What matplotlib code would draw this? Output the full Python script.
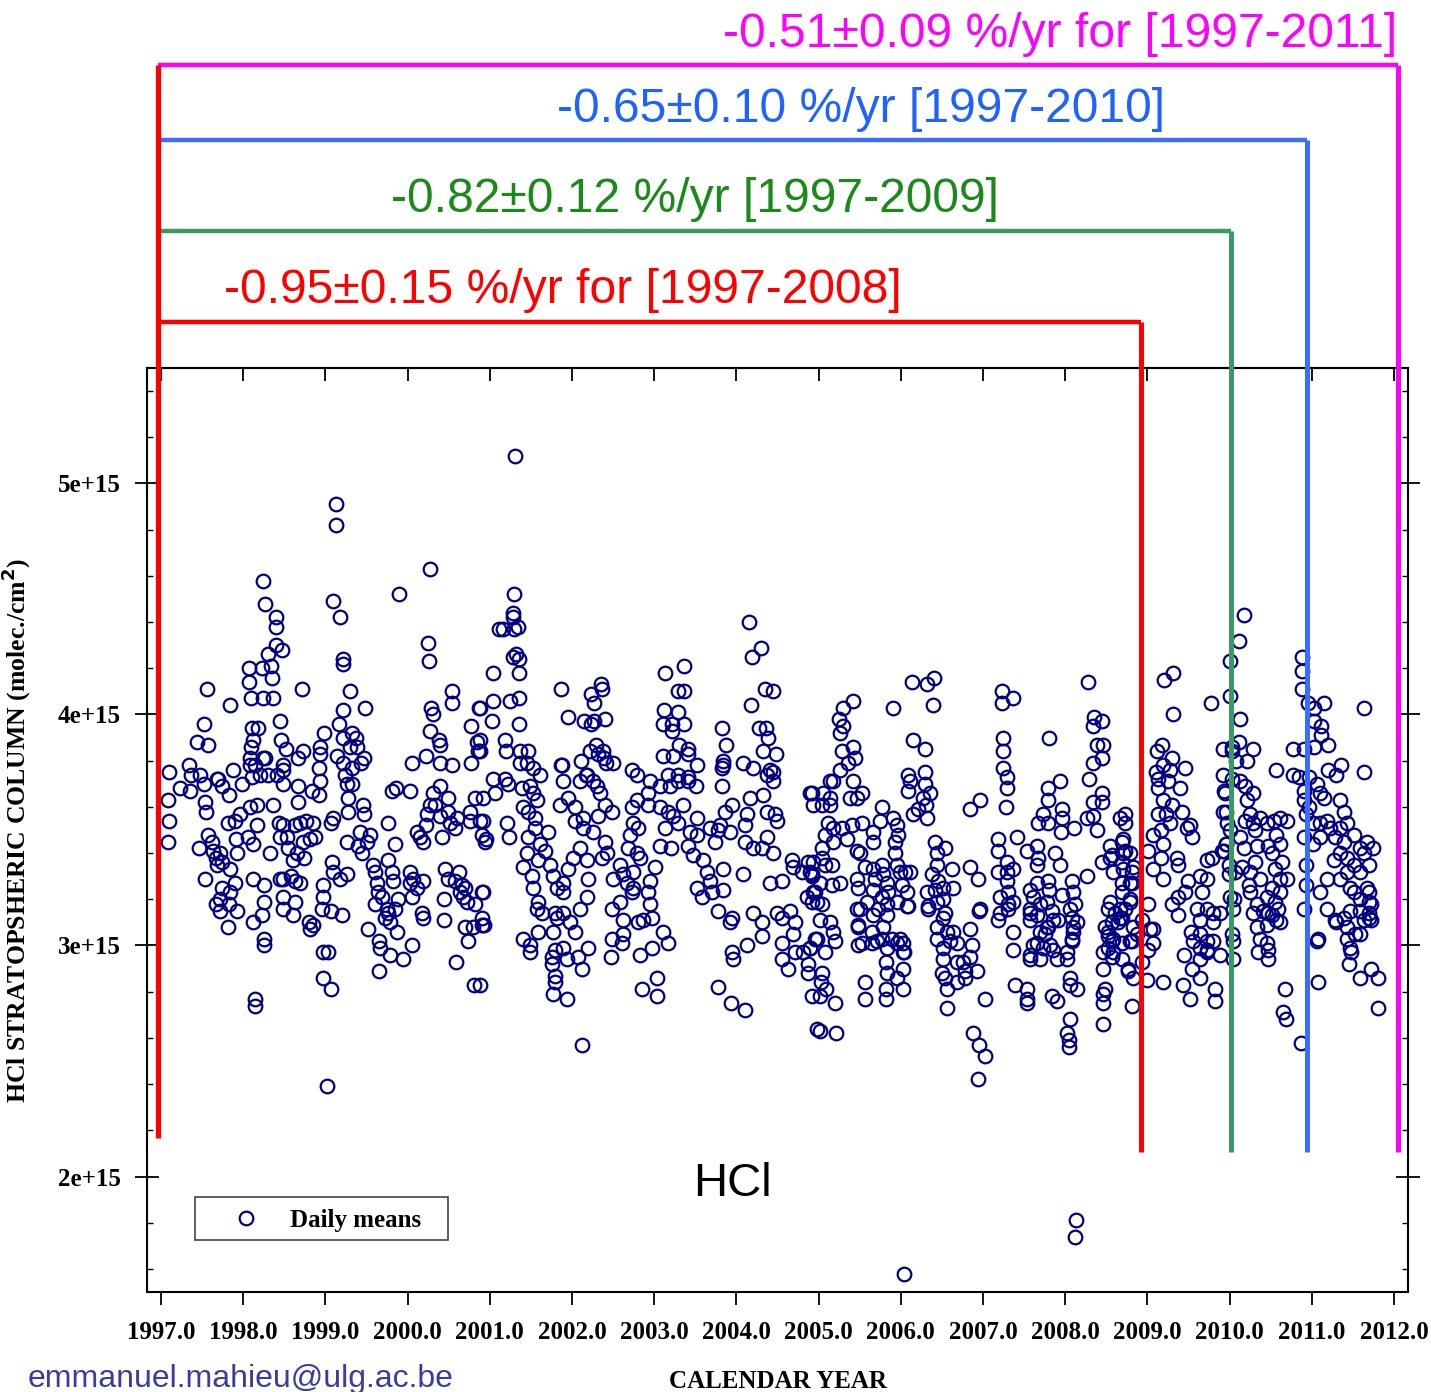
import matplotlib
matplotlib.use("Agg")
import matplotlib.pyplot as plt
from matplotlib.patches import Rectangle
from matplotlib.lines import Line2D
import numpy as np

# ---------------- data (decimal year, HCl column in units of 1e15 molec/cm2) ----------------
d1997 = [(1997.10,3.75),(1997.34,3.78),(1997.36,3.74),(1997.47,3.74),(1997.44,3.88),(1997.52,3.96),(1997.57,3.87),
         (1997.56,4.11),(1997.68,3.72),(1997.84,4.04),(1997.88,3.76),(1997.09,3.63),(1997.10,3.54),(1997.09,3.45),
         (1997.23,3.68),(1997.35,3.67),(1997.52,3.70),(1997.69,3.72),(1997.74,3.69),(1997.83,3.65),(1997.54,3.62),
         (1997.55,3.58),(1997.46,3.42),(1997.57,3.48),(1997.54,3.29),(1997.62,3.45),(1997.63,3.41),(1997.67,3.38),
         (1997.68,3.35),(1997.72,3.40),(1997.74,3.36),(1997.67,3.18),(1997.72,3.15),(1997.82,3.08),(1997.83,3.18),
         (1997.82,3.53),(1997.90,3.54),(1997.91,3.46),(1997.92,3.40),(1997.84,3.33),(1997.90,3.27),(1997.92,3.15),
         (1997.84,3.23),(1997.74,3.25),(1997.72,3.20)]
d1998 = [(1998.07,4.20),(1998.07,4.14),(1998.09,4.07),(1998.24,4.58),(1998.27,4.48),(1998.40,4.42),(1998.40,4.38),
         (1998.40,4.30),(1998.47,4.28),(1998.30,4.26),(1998.23,4.20),(1998.34,4.21),(1998.35,4.16),(1998.36,4.07),
         (1998.24,4.07),(1998.72,4.11),(1998.45,3.97),(1998.11,3.94),(1998.18,3.94),(1998.12,3.89),(1998.46,3.89),
         (1998.52,3.85),(1998.09,3.86),(1998.08,3.81),(1998.08,3.78),(1998.24,3.81),(1998.27,3.81),(1998.48,3.78),
         (1998.48,3.76),(1998.67,3.81),(1998.73,3.84),(1997.96,3.57),(1998.08,3.60),(1998.17,3.61),(1998.11,3.73),
         (1998.14,3.78),(1997.99,3.70),(1998.12,3.44),(1998.17,3.52),(1998.06,3.47),(1998.12,3.29),(1998.25,3.26),
         (1998.25,3.19),(1998.23,3.13),(1998.12,3.10),(1998.25,3.03),(1998.25,3.00),(1998.14,2.77),(1998.14,2.74),
         (1998.33,3.40),(1998.36,3.61),(1998.20,3.74),(1998.30,3.74),(1998.41,3.74),(1998.48,3.70),(1998.44,3.53),
         (1998.48,3.52),(1998.45,3.47),(1998.53,3.47),(1998.55,3.42),(1998.48,3.29),(1998.45,3.29),(1998.48,3.21),
         (1998.58,3.30),(1998.63,3.28),(1998.69,3.27),(1998.61,3.37),(1998.65,3.40),(1998.74,3.38),(1998.63,3.52),
         (1998.69,3.53),(1998.76,3.54),(1998.85,3.53),(1998.81,3.46),(1998.87,3.47),(1998.73,3.45),(1998.67,3.62),
         (1998.67,3.69),(1998.84,3.67),(1998.92,3.65),(1998.93,3.71),(1998.92,3.77),(1998.48,3.16),(1998.61,3.13),
         (1998.63,3.19),(1998.80,3.10),(1998.85,3.09),(1998.81,3.07)]
d1999 = [(1999.13,4.91),(1999.13,4.82),(1999.09,4.49),(1999.18,4.42),(1999.21,4.24),(1999.21,4.22),(1999.30,4.10),
         (1999.21,4.02),(1999.17,3.96),(1999.21,3.90),(1999.32,3.92),(1999.37,3.90),(1999.30,3.86),(1999.38,3.86),
         (1999.48,4.03),(1998.98,3.92),(1998.93,3.86),(1998.93,3.83),(1999.14,3.82),(1999.21,3.79),(1999.32,3.77),
         (1999.47,3.81),(1999.43,3.79),(1998.97,3.26),(1998.97,3.21),(1998.96,3.16),(1999.07,3.15),(1999.20,3.13),
         (1999.08,3.36),(1999.09,3.32),(1999.18,3.29),(1999.26,3.31),(1999.09,3.55),(1999.07,3.53),(1999.26,3.45),
         (1999.27,3.58),(1999.27,3.64),(1999.26,3.70),(1999.32,3.70),(1999.24,3.74),(1998.97,2.97),(1999.03,2.97),
         (1998.97,2.86),(1999.07,2.81),(1999.02,2.39),(1999.46,3.61),(1999.47,3.57),(1999.42,3.49),(1999.54,3.48),
         (1999.40,3.43),(1999.45,3.40),(1999.51,3.45),(1999.58,3.35),(1999.60,3.32),(1999.63,3.27),(1999.64,3.23),
         (1999.69,3.21),(1999.75,3.16),(1999.76,3.14),(1999.79,3.10),(1999.73,3.12),(1999.60,3.18),(1999.52,3.07),
         (1999.65,3.02),(1999.66,2.99),(1999.79,2.96),(1999.65,2.89),(1999.94,2.94),(2000.05,3.00),(1999.87,3.06),
         (1999.85,3.16),(1999.88,3.20),(1999.82,3.28),(1999.81,3.32),(1999.76,3.37),(1999.85,3.44),(1999.76,3.53),
         (1999.81,3.67),(1999.86,3.68),(1999.90,4.52)]
d2000 = [(2000.03,3.67),(2000.03,3.32),(2000.07,3.29),(2000.03,3.27),(2000.11,3.25),(2000.19,3.28),(2000.17,3.14),
         (2000.19,3.12),(2000.05,3.21),(2000.15,3.47),(2000.19,3.45),(2000.11,3.49),(2000.24,3.57),(2000.22,3.52),
         (2000.27,3.61),(2000.31,3.66),(2000.39,3.69),(2000.33,3.61),(2000.39,3.56),(2000.42,3.47),(2000.49,3.64),
         (2000.49,3.58),(2000.52,3.53),(2000.60,3.55),(2000.58,3.51),(2000.45,3.33),(2000.49,3.29),(2000.58,3.28),
         (2000.62,3.32),(2000.66,3.26),(2000.64,3.23),(2000.67,3.21),(2000.70,3.25),(2000.72,3.19),(2000.70,3.08),
         (2000.74,3.02),(2000.80,3.08),(2000.91,3.09),(2000.91,3.12),(2000.91,3.23),(2000.82,3.18),(2000.44,3.20),
         (2000.44,3.11),(2000.59,2.93),(2000.81,2.83),(2000.82,3.64),(2000.76,3.58),(2000.76,3.54),(2000.88,3.54),
         (2000.94,3.45),(2000.91,3.48),(2000.25,4.31),(2000.26,4.23),(2000.27,4.63),(2000.54,4.10),(2000.54,4.05),
         (2000.28,4.03),(2000.31,4.00),(2000.87,4.03),(2000.77,3.95),(2000.27,3.93),(2000.38,3.89),(2000.39,3.87),
         (2000.84,3.88),(2000.86,3.84),(2000.22,3.82),(2000.05,3.79),(2000.39,3.79),(2000.54,3.78),(2000.77,3.79),
         (2001.04,4.18),(2001.04,4.06),(2001.03,3.97),(2001.11,4.37)]
d2001 = [(2001.31,5.12),(2001.29,4.52),(2001.28,4.44),(2001.28,4.42),(2001.16,4.37),(2001.34,4.38),(2001.29,4.37),
         (2001.28,4.25),(2001.32,4.26),(2001.36,4.24),(2001.36,4.18),(2001.25,4.06),(2001.36,4.07),(2001.36,3.96),
         (2001.18,3.89),(2001.20,3.84),(2001.37,3.84),(2001.46,3.84),(2001.37,3.79),(2001.45,3.79),(2001.52,3.77),
         (2001.61,3.74),(2000.88,4.03),(2000.88,3.89),(2000.88,3.84),(2001.04,3.72),(2001.06,3.66),(2001.18,3.72),
         (2001.22,3.70),(2000.92,3.64),(2000.92,3.54),(2000.95,3.46),(2000.92,3.23),(2000.93,3.09),(2000.88,2.83),
         (2001.21,3.53),(2001.23,3.47),(2001.39,3.68),(2001.49,3.69),(2001.53,3.66),(2001.57,3.63),(2001.40,3.60),
         (2001.46,3.58),(2001.55,3.55),(2001.55,3.51),(2001.46,3.47),(2001.45,3.40),(2001.40,3.34),(2001.51,3.30),
         (2001.59,3.37),(2001.61,3.44),(2001.53,3.25),(2001.59,3.19),(2001.64,3.14),(2001.57,3.16),(2001.59,3.06),
         (2001.40,3.03),(2001.49,3.00),(2001.49,2.97),(2001.71,3.49),(2001.67,3.41),(2001.73,3.35),(2001.77,3.30),
         (2001.82,3.25),(2001.89,3.27),(2001.89,3.23),(2001.79,3.14),(2001.82,3.12),(2001.77,3.06),(2001.76,2.95),
         (2001.76,2.92),(2001.79,2.87),(2001.79,2.84),(2001.77,2.79),(2001.94,2.77),(2001.79,2.98),(2001.89,2.99),
         (2001.94,2.94),(2002.07,2.95),(2002.12,2.90),(2002.19,2.99),(2002.12,2.57)]
d2002 = [(2001.85,3.61),(2001.89,3.71),(2001.95,3.64),(2001.88,3.78),(2002.04,3.60),(2002.04,3.54),(2002.10,3.71),
         (2002.18,3.74),(2002.26,3.71),(2002.30,3.69),(2002.34,3.66),(2002.40,3.61),(2002.49,3.58),(2002.32,3.56),
         (2002.26,3.49),(2002.13,3.55),(2002.13,3.51),(2002.10,3.42),(2002.18,3.37),(2002.19,3.29),(2002.18,3.21),
         (2002.10,3.16),(2002.04,3.06),(2001.98,3.10),(2001.89,3.14),(2002.01,3.38),(2001.95,3.33),(2002.40,3.45),
         (2002.36,3.38),(2002.43,3.40),(2002.50,3.29),(2002.49,3.16),(2002.49,3.03),(2002.47,2.95),(2002.58,3.35),
         (2002.62,3.31),(2002.67,3.27),(2002.58,3.19),(2002.62,3.11),(2002.62,3.05),(2002.61,3.01),(2002.73,3.23),
         (2002.74,3.25),(2002.74,3.32),(2002.68,3.42),(2002.71,3.48),(2002.80,3.51),(2002.79,3.63),(2002.73,3.60),
         (2002.74,3.53),(2002.79,3.40),(2002.83,3.38),(2002.92,3.66),(2002.92,3.61),(2002.86,3.11),(2002.80,3.10),
         (2002.95,3.28),(2002.92,3.23),(2002.95,3.18),(2002.97,3.12),(2003.01,3.34),(2003.11,3.06),(2003.17,3.01),
         (2002.97,2.99),(2002.83,2.96),(2002.85,2.81),(2003.03,2.86),(2003.03,2.78),(2002.73,3.76),(2002.79,3.74),
         (2001.87,4.11),(2001.95,3.99),(2001.87,3.78),(2002.11,3.80),(2002.17,3.74),(2002.35,4.13),(2002.36,4.11),
         (2002.23,4.09),(2002.27,4.05),(2002.15,3.97),(2002.23,3.96),(2002.27,3.97),(2002.40,3.98),(2002.29,3.87),
         (2002.22,3.84),(2002.32,3.83),(2002.38,3.84),(2002.39,3.81),(2002.41,3.79),(2002.50,3.79)]
d2003 = [(2003.13,4.18),(2003.36,4.21),(2003.29,4.10),(2003.36,4.10),(2003.12,4.02),(2003.29,4.01),(2003.11,3.96),
         (2003.22,3.96),(2003.36,3.96),(2003.22,3.93),(2003.30,3.87),(2003.41,3.85),(2003.41,3.83),(2003.11,3.82),
         (2003.23,3.82),(2003.52,3.78),(2003.17,3.74),(2003.29,3.74),(2003.41,3.73),(2002.95,3.71),(2003.07,3.69),
         (2003.19,3.69),(2003.29,3.71),(2003.41,3.71),(2003.51,3.69),(2003.07,3.60),(2003.17,3.58),(2003.23,3.56),
         (2003.29,3.53),(2003.13,3.51),(2003.07,3.43),(2003.21,3.42),(2003.35,3.61),(2003.52,3.55),(2003.43,3.49),
         (2003.52,3.48),(2003.41,3.43),(2003.47,3.39),(2003.59,3.37),(2003.64,3.32),(2003.68,3.28),(2003.70,3.23),
         (2003.74,3.45),(2003.68,3.51),(2003.78,3.50),(2003.84,3.33),(2003.84,3.24),(2003.78,3.15),(2003.80,3.52),
         (2003.86,3.58),(2003.95,3.61),(2003.92,3.49),(2003.83,3.69),(2003.84,3.78),(2003.52,3.25),(2003.58,3.21),
         (2003.83,3.94),(2003.87,3.87),(2003.84,3.80),(2003.83,3.77)]
d2004 = [(2004.15,4.40),(2004.30,4.29),(2004.19,4.25),(2004.18,4.04),(2004.35,4.11),(2004.45,4.10),(2004.28,3.94),
         (2004.36,3.94),(2004.38,3.90),(2004.32,3.84),(2004.48,3.83),(2004.08,3.79),(2004.20,3.77),(2004.41,3.76),
         (2004.45,3.75),(2004.10,3.52),(2004.17,3.64),(2004.13,3.57),(2004.10,3.45),(2004.20,3.42),(2004.31,3.42),
         (2004.45,3.40),(2004.37,3.47),(2004.32,3.65),(2004.37,3.58),(2004.47,3.57),(2004.49,3.54),(2004.45,3.71),
         (2004.37,3.74),(2004.08,3.31),(2004.20,3.14),(2004.31,3.10),(2004.31,3.04),(2003.95,3.12),(2003.92,3.10),
         (2003.95,2.97),(2003.96,2.94),(2004.13,3.00),(2003.78,2.82),(2003.94,2.75),(2004.10,2.72),(2004.41,3.27),
         (2004.55,3.28),(2004.49,3.14),(2004.55,3.12),(2004.65,3.15),(2004.71,3.10),(2004.68,3.37),(2004.69,3.34),
         (2004.80,3.32),(2004.87,3.36),(2004.90,3.32),(2004.92,3.30),(2004.93,3.23),(2004.86,3.21),(2004.98,3.19),
         (2004.55,3.01),(2004.55,2.94),(2004.63,2.90),(2004.69,3.05),(2004.71,2.97),(2004.81,2.97),(2004.87,2.92),
         (2004.87,2.88),(2004.90,2.99),(2004.98,3.03),(2004.92,2.78),(2004.98,2.64),(2004.90,3.66),(2004.93,3.61)]
d2005 = [(2005.42,4.06),(2005.30,4.03),(2005.25,3.98),(2005.30,3.95),(2005.26,3.92),(2005.28,3.84),(2005.42,3.86),
         (2005.44,3.81),(2005.36,3.79),(2005.26,3.76),(2005.18,3.71),(2005.14,3.71),(2005.42,3.71),(2005.53,3.66),
         (2005.38,3.64),(2005.47,3.64),(2004.92,3.66),(2005.05,3.66),(2005.04,3.61),(2005.14,3.61),(2005.14,3.64),
         (2005.77,3.60),(2005.75,3.54),(2005.91,3.55),(2005.95,3.52),(2005.97,3.48),(2005.93,3.45),(2005.93,3.40),
         (2005.66,3.49),(2005.66,3.45),(2005.53,3.53),(2005.41,3.52),(2005.28,3.51),(2005.18,3.51),(2005.11,3.53),
         (2005.08,3.48),(2005.18,3.45),(2005.35,3.46),(2005.47,3.41),(2005.50,3.40),(2005.04,3.42),(2005.04,3.38),
         (2005.08,3.35),(2005.16,3.35),(2004.93,3.36),(2004.92,3.31),(2005.02,3.27),(2005.16,3.26),(2005.26,3.27),
         (2004.96,3.23),(2004.92,3.19),(2005.04,3.18),(2005.02,3.11),(2005.14,3.10),(2005.18,3.06),(2005.20,3.02),
         (2004.96,3.03),(2004.90,2.99),(2005.08,2.97),(2005.47,3.29),(2005.48,3.25),(2005.47,3.16),(2005.50,3.16),
         (2005.59,3.19),(2005.56,3.34),(2005.66,3.33),(2005.69,3.29),(2005.66,3.24),(2005.77,3.35),(2005.78,3.31),
         (2005.83,3.27),(2005.77,3.21),(2005.84,3.23),(2005.95,3.35),(2005.99,3.32),(2006.05,3.32),(2006.11,3.32),
         (2006.01,3.26),(2006.08,3.23),(2006.09,3.17),(2005.95,3.19),(2005.83,3.18),(2005.72,3.16),(2005.66,3.13),
         (2005.48,3.08),(2005.53,3.01),(2005.71,3.02),(2005.78,3.08),(2005.77,3.03),(2005.89,3.03),(2005.83,2.99),
         (2005.99,3.03),(2006.03,3.01),(2006.03,2.97),(2005.02,2.63),(2005.21,2.62),(2005.02,2.78),(2005.09,2.81),
         (2005.20,2.75),(2005.03,2.84),(2005.04,2.88),(2005.56,2.84),(2005.56,2.77),(2005.82,2.81),(2005.82,2.77),
         (2005.82,2.93),(2005.83,2.88),(2006.03,2.81),(2006.03,2.90),(2006.04,2.97),(2005.95,2.86),(2005.95,3.01),
         (2005.65,3.01),(2005.48,3.00),(2005.48,3.09),(2005.65,3.06),(2005.83,3.13),(2006.08,3.17),(2006.33,3.16),
         (2005.91,4.03)]
d2006 = [(2006.14,4.14),(2006.32,4.13),(2006.40,4.16),(2006.39,4.04),(2006.15,3.89),(2006.29,3.85),(2006.09,3.74),
         (2006.29,3.75),(2006.11,3.71),(2006.29,3.70),(2006.36,3.66),(2006.09,3.67),(2006.27,3.64),(2006.31,3.61),
         (2006.21,3.59),(2006.15,3.57),(2006.32,3.55),(2006.42,3.45),(2006.44,3.40),(2006.54,3.42),(2006.44,3.35),
         (2006.38,3.31),(2006.45,3.28),(2006.62,3.33),(2006.64,3.25),(2006.51,3.25),(2006.32,3.23),(2006.42,3.24),
         (2006.44,3.19),(2006.33,3.17),(2006.51,3.20),(2006.54,3.14),(2006.51,3.12),(2006.56,3.06),(2006.64,3.06),
         (2006.44,3.08),(2006.44,3.03),(2006.51,2.99),(2006.68,3.01),(2006.84,3.07),(2006.87,3.00),(2006.84,3.34),
         (2006.94,3.29),(2006.96,3.16),(2006.51,2.94),(2006.50,2.88),(2006.54,2.86),(2006.56,2.81),(2006.56,2.73),
         (2006.68,2.93),(2006.68,2.84),(2006.76,2.93),(2006.78,2.89),(2006.78,2.86),(2006.84,2.95),(2006.93,2.89),
         (2007.02,2.77),(2006.95,3.15),(2006.88,2.62),(2006.95,2.57),(2007.02,2.52),(2006.94,2.42),(2006.04,1.58),
         (2006.60,3.02)]
d2007 = [(2007.23,4.10),(2007.36,4.07),(2007.23,4.05),(2007.24,3.90),(2007.24,3.84),(2007.24,3.77),(2007.29,3.73),
         (2007.29,3.68),(2006.96,3.63),(2006.84,3.59),(2007.28,3.60),(2007.18,3.46),(2007.18,3.41),(2007.41,3.47),
         (2007.29,3.36),(2007.18,3.32),(2007.29,3.32),(2007.36,3.33),(2007.29,3.28),(2007.30,3.23),(2007.21,3.21),
         (2007.21,3.14),(2007.18,3.11),(2007.30,3.18),(2007.36,3.19),(2007.36,3.06),(2007.36,2.98),(2007.53,3.41),
         (2007.66,3.43),(2007.67,3.38),(2007.66,3.35),(2007.88,3.40),(2007.94,3.35),(2007.79,3.28),(2007.80,3.24),
         (2007.66,3.27),(2007.57,3.24),(2007.61,3.21),(2007.57,3.16),(2007.57,3.14),(2007.69,3.18),(2007.78,3.19),
         (2007.84,3.15),(2007.85,3.11),(2007.78,3.08),(2007.69,3.06),(2007.66,3.01),(2007.73,2.99),(2007.82,3.00),
         (2007.96,3.22),(2007.91,3.11),(2007.57,2.96),(2007.80,3.90),(2007.94,3.71),(2007.79,3.68),(2007.79,3.63),
         (2007.73,3.57),(2007.67,3.53),(2007.79,3.53),(2007.96,3.59),(2007.96,3.55),(2007.95,3.49),(2007.30,3.16),
         (2007.39,2.83),(2007.54,2.81),(2007.54,2.77),(2007.54,2.75),(2007.57,2.94),(2007.61,3.00),(2007.69,2.94),
         (2007.75,3.05),(2007.85,2.98),(2007.90,2.94),(2007.84,2.78),(2007.90,2.76),(2007.79,3.08),(2007.57,3.11),
         (2007.66,3.13)]
d2008 = [(2008.08,3.28),(2008.09,3.23),(2008.12,3.18),(2008.06,3.16),(2008.08,3.12),(2008.14,3.10),(2008.09,3.06),
         (2008.08,3.03),(2008.27,3.30),(2008.02,2.97),(2008.11,3.51),(2008.02,2.94),(2008.08,3.02),(2008.09,3.08),
         (2008.06,2.86),(2008.06,2.83),(2008.14,2.81),(2008.06,2.68),(2008.02,2.62),(2008.05,2.59),(2008.05,2.56),
         (2008.13,1.81),(2008.12,1.74),(2008.28,4.14),(2008.35,3.99),(2008.45,3.97),(2008.34,3.95),(2008.39,3.87),
         (2008.45,3.81),(2008.34,3.79),(2008.29,3.72),(2008.45,3.66),(2008.34,3.62),(2008.45,3.62),(2008.27,3.55),
         (2008.34,3.56),(2008.39,3.50),(2008.55,3.43),(2008.45,3.36),(2008.55,3.38),(2008.69,3.45),(2008.70,3.40),
         (2008.79,3.40),(2008.69,3.36),(2008.58,3.32),(2008.70,3.33),(2008.81,3.32),(2008.79,3.27),(2008.69,3.23),
         (2008.79,3.19),(2008.73,3.16),(2008.61,3.14),(2008.52,3.16),(2008.55,3.19),(2008.64,3.10),(2008.48,3.08),
         (2008.52,3.06),(2008.69,3.12),(2008.82,3.08),(2008.81,3.02),(2008.69,3.01),(2008.58,3.03),(2008.52,2.99),
         (2008.46,2.97),(2008.57,2.95),(2008.73,3.41),(2008.67,3.55),(2008.73,3.57),(2008.73,3.53),(2008.46,3.87),
         (2008.46,2.90),(2008.48,2.81),(2008.46,2.79),(2008.46,2.75),(2008.46,2.66),(2008.57,3.02),(2008.76,2.89),
         (2008.81,2.74),(2008.82,2.86),(2008.87,3.05),(2008.57,3.39),(2008.70,3.46),(2008.82,3.34),(2008.69,3.27),
         (2008.81,3.27),(2008.79,3.20),(2008.67,3.16),(2008.57,3.10),(2008.52,3.04),(2008.79,3.02),(2008.67,3.12),
         (2008.58,2.97),(2008.69,2.94),(2008.76,2.90),(2008.94,2.93),(2008.99,2.85),(2009.01,2.98),(2009.07,3.07),
         (2009.07,3.01),(2008.94,3.11),(2009.19,2.84)]
d2009 = [(2009.20,4.15),(2009.31,4.18),(2009.31,4.00),(2009.77,4.05),(2009.12,3.84),(2009.18,3.87),(2009.10,3.75),
         (2009.19,3.78),(2009.30,3.81),(2009.46,3.77),(2009.27,3.76),(2009.13,3.72),(2009.25,3.71),(2009.13,3.68),
         (2009.40,3.68),(2009.19,3.63),(2009.30,3.61),(2009.13,3.57),(2009.22,3.57),(2009.42,3.58),(2009.27,3.53),
         (2009.17,3.50),(2009.19,3.44),(2009.07,3.48),(2009.01,3.41),(2009.16,3.38),(2009.07,3.33),(2009.19,3.29),
         (2009.36,3.38),(2009.37,3.35),(2009.48,3.51),(2009.54,3.47),(2009.52,3.52),(2009.92,3.85),(2010.03,3.84),
         (2009.92,3.74),(2009.94,3.66),(2009.92,3.58),(2009.97,3.53),(2009.95,3.44),(2009.91,3.41),(2009.99,3.35),
         (2009.99,3.31),(2009.79,3.38),(2009.73,3.37),(2009.64,3.30),(2009.73,3.29),(2009.01,3.18),(2009.03,3.07),
         (2009.37,3.21),(2009.37,3.13),(2009.30,3.18),(2009.46,3.23),(2009.49,3.28),(2009.60,3.16),(2009.67,3.23),
         (2009.73,3.16),(2009.80,3.14),(2009.88,3.14),(2009.53,3.06),(2009.64,3.11),(2009.56,3.02),(2009.64,2.99),
         (2009.73,3.02),(2009.80,3.02),(2009.44,2.96),(2009.73,2.97),(2009.43,2.83),(2009.52,2.77),(2009.54,2.90),
         (2009.64,2.94),(2009.64,2.86),(2009.64,3.05),(2009.73,2.98),(2009.80,3.10),(2009.82,2.81),(2009.82,2.76),
         (2009.88,2.96),(2010.04,3.02),(2010.04,2.94),(2010.04,3.16),(2010.03,3.05)]
d2010 = [(2010.18,4.43),(2010.11,4.32),(2010.00,4.23),(2010.00,4.08),(2010.13,3.98),(2010.03,3.86),(2010.11,3.88),
         (2010.08,3.80),(2010.21,3.80),(2010.29,3.85),(2010.03,3.72),(2009.93,3.67),(2010.13,3.71),(2010.19,3.69),
         (2010.29,3.66),(2010.21,3.63),(2009.96,3.58),(2010.25,3.57),(2010.29,3.53),(2010.37,3.55),(2010.45,3.53),
         (2010.54,3.54),(2010.61,3.55),(2010.70,3.54),(2010.31,3.50),(2010.19,3.54),(2010.00,3.50),(2010.13,3.47),
         (2009.96,3.44),(2010.17,3.42),(2009.93,3.41),(2010.33,3.43),(2010.47,3.43),(2010.57,3.48),(2010.61,3.44),
         (2010.52,3.40),(2010.64,3.36),(2010.55,3.33),(2010.61,3.29),(2010.06,3.32),(2010.15,3.34),(2010.25,3.32),
         (2010.31,3.36),(2010.37,3.29),(2010.70,3.29),(2010.56,3.76),(2010.23,3.26),(2010.25,3.23),(2010.33,3.18),
         (2010.29,3.14),(2010.33,3.08),(2010.41,3.15),(2010.45,3.21),(2010.51,3.25),(2010.55,3.19),(2010.47,3.14),
         (2010.57,3.11),(2010.61,3.23),(2010.59,3.16),(2010.45,3.09),(2010.37,3.03),(2010.45,3.01),(2010.47,2.98),
         (2010.00,3.21),(2010.05,3.20),(2010.35,2.97),(2010.47,2.94),(2010.61,3.10),(2010.52,3.13),(2010.67,2.81),
         (2010.65,2.71),(2010.69,2.68),(2010.87,2.58),(2010.77,3.85),(2010.77,3.74)]
d2011 = [(2010.88,4.25),(2010.88,4.19),(2010.88,4.11),(2010.95,4.05),(2011.03,4.03),(2011.15,4.05),(2011.03,3.97),
         (2011.11,3.95),(2011.11,3.91),(2011.03,3.86),(2011.20,3.87),(2011.63,4.03),(2011.63,3.75),(2010.90,3.85),
         (2011.36,3.78),(2011.30,3.74),(2011.20,3.76),(2010.85,3.73),(2010.91,3.67),(2010.97,3.73),(2011.06,3.70),
         (2011.10,3.66),(2011.15,3.64),(2010.90,3.63),(2010.97,3.60),(2010.93,3.57),(2011.02,3.53),(2011.10,3.53),
         (2011.18,3.54),(2011.22,3.51),(2011.34,3.63),(2011.39,3.58),(2011.34,3.51),(2011.43,3.53),(2010.90,3.47),
         (2011.02,3.44),(2011.10,3.47),(2011.28,3.47),(2011.39,3.45),(2011.51,3.48),(2011.67,3.45),(2011.75,3.42),
         (2011.58,3.42),(2011.34,3.40),(2011.27,3.37),(2011.43,3.38),(2011.51,3.35),(2011.64,3.40),(2011.70,3.35),
         (2011.58,3.32),(2011.43,3.32),(2011.34,3.29),(2011.18,3.29),(2011.10,3.23),(2011.18,3.16),(2010.93,3.35),
         (2010.93,3.26),(2010.91,3.16),(2011.46,3.25),(2011.67,3.25),(2011.70,3.23),(2011.70,3.19),(2011.58,3.20),
         (2011.51,3.23),(2011.46,3.15),(2011.58,3.15),(2011.70,3.12),(2011.39,3.12),(2011.28,3.11),(2011.43,3.08),
         (2011.58,3.05),(2011.46,2.99),(2011.48,2.97),(2011.08,3.03),(2011.06,3.02),(2011.08,2.84),(2011.30,3.10),
         (2011.43,3.03),(2011.45,2.92),(2011.53,3.05),(2011.64,3.11),(2011.70,3.14),(2011.72,3.11),(2011.72,3.18),
         (2011.58,2.86),(2011.72,2.90),(2011.80,2.86),(2011.80,2.73)]

# trend annotations
trend_labels = ["-0.51\u00b10.09 %/yr for [1997-2011]", "-0.65\u00b10.10 %/yr [1997-2010]",
                "-0.82\u00b10.12 %/yr [1997-2009]", "-0.95\u00b10.15 %/yr for [1997-2008]"]
trend_end = [2012.05, 2010.94, 2010.02, 2008.92]
trend_start = 1996.96
trend_level = [6.81, 6.485, 6.091, 5.697]
line_colors = ["#ff00ff", "#3a6cff", "#3a9a66", "#ff0000"]
text_colors = ["#ff00ff", "#1f63ff", "#1a8a1a", "#ff0000"]

xticks = list(range(1997, 2013))
yticks = [2, 3, 4, 5]
ytick_labels = ["2e+15", "3e+15", "4e+15", "5e+15"]

# ---------------- figure ----------------
W, H = 1431, 1392
fig = plt.figure(figsize=(W / 100, H / 100), dpi=100)
AX_L, AX_R, AX_T, AX_B = 147, 1408, 368, 1292
ax = fig.add_axes([AX_L / W, 1 - AX_B / H, (AX_R - AX_L) / W, (AX_B - AX_T) / H])

allpts = d1997 + d1998 + d1999 + d2000 + d2001 + d2002 + d2003 + d2004 + d2005 + d2006 + d2007 + d2008 + d2009 + d2010 + d2011
t = np.array([p[0] for p in allpts])
v = np.array([p[1] for p in allpts])
MS, MEW, MC = 9.8, 1.6, "#000080"
ax.plot(t, v, linestyle="none", marker="o", ms=MS, mfc="none", mec=MC, mew=MEW, zorder=3)

ax.set_xlim(1996.83, 2012.17)
ax.set_ylim(1.5, 5.5)

serif = ["Liberation Serif", "DejaVu Serif"]
ax.set_xticks(xticks)
ax.set_xticklabels([f"{x}.0" for x in xticks], fontfamily=serif, fontweight="bold", fontsize=18)
ax.set_yticks(yticks)
ax.set_yticklabels(ytick_labels, fontfamily=serif, fontweight="bold", fontsize=18)
ax.set_yticks(np.arange(1.6, 5.5, 0.2), minor=True)
ax.tick_params(axis="x", which="major", direction="out", length=9.5, width=1.3, pad=11.5, top=False)
ax.tick_params(axis="y", which="major", direction="inout", length=17, width=1.3, pad=10.5, right=True)
ax.tick_params(axis="y", which="minor", direction="in", length=4.5, width=1.0, right=True)
ax.tick_params(axis="x", which="minor", bottom=False, top=False)
for s in ax.spines.values():
    s.set_linewidth(1.5)

sec = ax.secondary_xaxis("top")
sec.set_xticks(xticks)
sec.tick_params(direction="in", length=9, width=1.3, labeltop=False)
sec.spines["top"].set_linewidth(1.5)

# trend brackets
for lvl, end, lc in zip(trend_level, trend_end, line_colors):
    ax.plot([trend_start, end], [lvl, lvl], color=lc, lw=3.2, clip_on=False, zorder=5, solid_capstyle="butt")
    ax.plot([end, end], [lvl, 2.104], color=lc, lw=3.6, clip_on=False, zorder=5, solid_capstyle="butt")
ax.plot([trend_start, trend_start], [trend_level[0], 2.165], color="#ff0000", lw=3.8, clip_on=False, zorder=6,
        solid_capstyle="butt")

sans = ["Liberation Sans", "DejaVu Sans"]
text_pos = [(723, 47), (557, 122), (391, 212), (224, 303)]
for lab, tc, (px, py) in zip(trend_labels, text_colors, text_pos):
    fig.text(px / W, 1 - py / H, lab, color=tc, fontsize=34.6, fontfamily=sans, ha="left", va="baseline")

fig.text(693 / W, 1 - 1196 / H, "HCl", fontsize=34, fontfamily=sans, ha="left", va="baseline")

ax.set_ylabel("HCl STRATOPSHERIC COLUMN (molec./cm$^\\mathbf{2}$)", fontfamily=serif, fontweight="bold",
              fontsize=18.5)
ax.yaxis.set_label_coords((33 - AX_L) / (AX_R - AX_L), 0.5)
fig.text(778 / W, 1 - 1388 / H, "CALENDAR YEAR", fontfamily=serif, fontweight="bold", fontsize=18,
         ha="center", va="baseline")
fig.text(28 / W, 1 - 1387 / H, "emmanuel.mahieu@ulg.ac.be", color="#3c3ca0", fontfamily=sans, fontsize=23,
         ha="left", va="baseline")

# legend: framed box with one marker and label
fig.patches.append(Rectangle((195 / W, 1 - 1240 / H), (448 - 195) / W, (1240 - 1197) / H,
                             transform=fig.transFigure, fill=False, edgecolor="#444444", lw=1.2, zorder=10))
fig.lines.append(Line2D([246 / W], [1 - 1218 / H], transform=fig.transFigure, linestyle="none", marker="o",
                        ms=MS, mfc="none", mec=MC, mew=MEW))
fig.text(290 / W, 1 - 1218 / H, "Daily means", fontfamily=serif, fontweight="bold", fontsize=18,
         ha="left", va="center_baseline")

fig.savefig("out.png", dpi=100)
